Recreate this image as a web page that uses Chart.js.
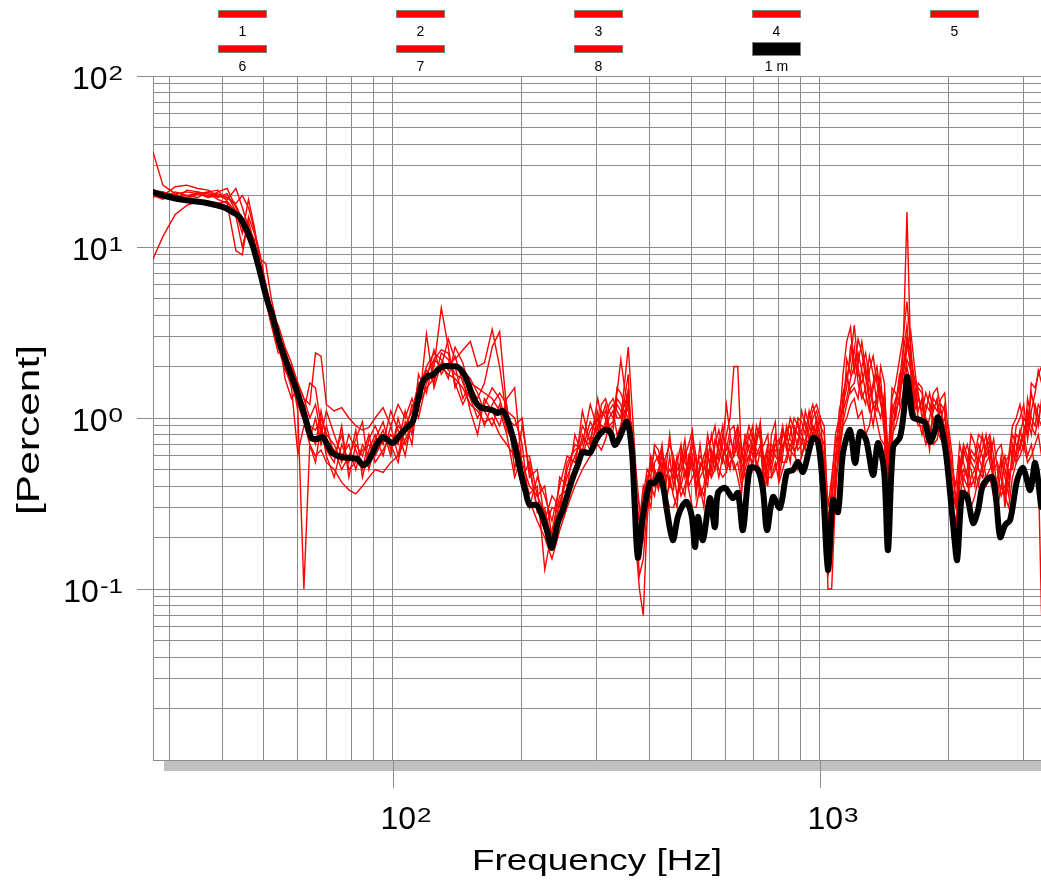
<!DOCTYPE html>
<html>
<head>
<meta charset="utf-8">
<script src="https://cdn.jsdelivr.net/npm/chart.js@4.4.1/dist/chart.umd.min.js"></script>
<style>
  html, body { margin: 0; padding: 0; background: #fff; }
  #wrap { width: 1041px; height: 880px; }
</style>
</head>
<body>
<div id="wrap"><canvas id="spectrum" width="1041" height="880"></canvas></div>
<script>
// frequency grid of the single runs (Hz)
const freqRuns = [27.5, 29, 31, 33, 35, 37, 39, 41, 43, 44.5, 46, 47.5, 49, 50.5, 52, 54, 56, 58, 60, 62,
  64, 66, 68, 70, 73, 76, 79, 82, 85, 88, 91, 95, 99, 103, 107, 111, 115, 120, 125, 130,
  135, 140, 146, 152, 158, 164, 171, 178, 185, 193, 201, 209, 218, 227, 236, 246, 256, 267, 278, 290,
  302, 308, 315, 321, 328, 335, 342, 349, 356, 363, 371, 378, 386, 394, 402, 410, 419, 427, 436, 445,
  454, 463, 473, 483, 493, 503, 513, 524, 535, 546, 557, 568, 580, 592, 604, 616, 629, 642, 655, 668,
  682, 696, 710, 725, 740, 755, 770, 786, 802, 818, 835, 852, 870, 888, 906, 924, 943, 962, 982, 1002,
  1023, 1044, 1065, 1087, 1109, 1132, 1155, 1179, 1203, 1228, 1253, 1279, 1305, 1332, 1359, 1387, 1415, 1444, 1474, 1504,
  1535, 1566, 1598, 1631, 1664, 1698, 1733, 1769, 1805, 1842, 1880, 1919, 1958, 1998, 2039, 2081, 2123, 2167, 2211, 2257,
  2303, 2350, 2398, 2447, 2497, 2549, 2601, 2655, 2709, 2765, 2821, 2879, 2938, 2998, 3060, 3123, 3187, 3243, 3300];

// runs 1..8 (Percent)
const run1 = [36,23,20.5,21,20.5,20,20.5,19.5,17.5,14.5,12.5,10, 8,6,4.5,3.2,2.5,1.9,1.4,1.2,0.9,0.85,1.0,0.8,
  0.7,0.55,0.8,0.65,0.5,0.75,0.9,0.7,1.1,0.85,0.6,1.0, 1.4,2.0,2.4,2.2,1.9,2.3,1.6,1.3,1.0,1.2,1.5,1.3,0.9,
  0.8,0.55,0.4,0.35,0.28,0.2,0.32,0.45,0.6,0.75,0.7,
  0.9,1.1,1.0,0.8,0.85,1.3,1.2,1.0,1.5,0.7, 0.35,0.25,0.3,0.45,0.5,0.65,0.55,0.7,0.4,0.6,
  0.4,0.5,0.55,0.75,0.45,0.6,0.35,0.55,0.5,0.8, 0.6,0.5,0.7,0.9,0.55,0.75,0.65,0.85,0.5,0.6,
  0.8,0.65,0.7,0.95,0.45,0.55,0.6,0.8,0.5,0.7, 0.75,1.0,0.85,0.65,0.7,1.1,0.9,0.8,1.0,0.75,
  0.6,0.2,0.3,0.6,0.8,1.2,1.5,2.6,2.2,1.8, 1.6,2.0,1.2,0.9,1.4,1.7,0.9,0.4,1.1,1.3,
  1.5,2.0,3.0,2.4,1.6,1.1,1.3,0.8,1.0,1.3, 1.2,0.8,0.9,0.6,0.35,0.3,0.5,0.7,0.6,0.4,
  0.45,0.55,0.65,0.8,0.55,0.45,0.4,0.6,0.45,0.35, 0.7,0.6,0.8,1.0,0.9,1.4,1.1,0.9,1.3];
const run2 = [8.5,11.5,15.5,17.5,18.5,18.5,18,18.5,16,14,12,10.5, 7,5,3.8,2.6,1.9,1.6,1.2,0.95,0.7,0.6,0.65,0.55,
  0.5,0.42,0.38,0.36,0.4,0.45,0.5,0.48,0.55,0.6,0.75,0.9, 1.2,1.5,1.7,2.0,1.8,1.7,1.5,1.2,1.1,0.95,1.0,0.8,0.7,
  0.6,0.4,0.33,0.25,0.2,0.15,0.22,0.3,0.4,0.5,0.6,
  0.7,0.65,0.75,0.9,0.8,0.7,0.9,1.1,1.0,0.5, 0.2,0.18,0.25,0.3,0.35,0.5,0.4,0.45,0.35,0.3,
  0.3,0.35,0.4,0.5,0.38,0.3,0.3,0.4,0.35,0.5, 0.45,0.6,0.5,0.45,0.48,0.65,0.5,0.55,0.4,0.5,
  0.6,0.7,0.55,0.5,0.38,0.45,0.45,0.55,0.42,0.5, 0.6,0.7,0.65,0.5,0.6,0.7,0.75,0.9,0.8,0.6,
  0.45,0.15,0.2,0.45,0.6,0.9,1.0,1.2,1.3,1.0, 1.1,0.8,0.9,1.2,0.95,0.75,0.7,0.3,0.8,0.9,
  1.1,1.4,2.0,1.5,1.1,0.9,0.9,0.7,0.8,1.0, 0.85,0.75,0.7,0.45,0.25,0.2,0.4,0.5,0.45,0.3,
  0.35,0.45,0.5,0.4,0.45,0.35,0.3,0.4,0.35,0.3, 0.45,0.55,0.6,0.7,0.55,0.6,0.7,0.8,0.6];
const run3 = [20,21,20,19.5,21,20.5,19,18,9.5,9,15,12, 8.5,8,5,3.3,1.7,1.3,1.5,1.1,1.6,1.5,0.9,0.65,
  0.55,0.9,0.45,0.7,0.6,0.8,0.55,0.65,0.8,0.7,1.1,0.8, 1.8,1.4,2.2,2.5,2.4,1.6,1.2,1.5,1.3,1.6,2.6,3.2,1.1,
  1.0,0.7,0.3,0.45,0.35,0.25,0.4,0.6,0.55,0.9,0.75,
  1.1,0.8,0.9,1.2,1.3,1.1,1.0,1.6,2.6,1.2, 0.5,0.3,0.2,0.4,0.6,0.5,0.45,0.65,0.5,0.8,
  0.5,0.35,0.45,0.6,0.7,0.85,0.4,0.5,0.6,0.7, 0.75,0.9,0.55,0.7,1.2,0.8,0.6,0.7,0.45,0.55,
  0.7,0.6,0.9,0.75,0.5,0.65,0.55,0.7,0.7,0.9, 0.65,0.8,1.0,0.9,0.8,0.7,0.7,1.0,1.1,0.9,
  0.8,0.3,0.45,0.7,0.9,1.8,2.8,3.4,1.8,2.9, 2.4,1.7,1.5,1.2,1.1,2.0,1.6,0.5,1.3,1.6,
  2.2,3.0,4.8,2.6,1.3,1.6,1.5,0.9,0.65,1.2, 1.1,1.3,1.4,0.8,0.5,0.4,0.7,0.55,0.45,0.65,
  0.6,0.8,0.75,0.6,0.7,0.5,0.55,0.45,0.35,0.6, 0.9,1.0,1.2,0.9,0.8,1.6,1.5,1.8,2.0];
const run4 = [21,20,22.5,23,22,21.5,20,19,22,17,13,11, 6.5,5.5,4.3,3.0,2.3,2.0,1.6,1.3,1.0,1.2,0.8,1.1,
  0.8,0.6,0.7,0.5,0.7,0.6,0.75,0.95,0.65,0.9,0.8,1.2, 1.1,3.1,1.5,2.1,1.7,2.6,2.1,1.4,1.2,0.9,1.2,1.4,1.2,
  0.5,0.9,0.5,0.3,0.22,0.3,0.28,0.5,0.7,0.65,0.95,
  0.8,1.0,1.2,0.9,0.95,1.5,1.4,1.2,1.1,0.9, 0.3,0.2,0.35,0.5,0.45,0.7,0.65,0.5,0.3,0.45,
  0.35,0.3,0.65,0.55,0.5,0.7,0.55,0.35,0.4,0.6, 0.5,0.7,0.85,0.65,0.6,0.5,0.75,0.9,0.7,0.45,
  0.55,0.8,0.65,0.6,0.6,0.4,0.8,0.95,0.45,0.6, 0.9,0.75,0.7,1.0,0.95,0.8,1.1,0.85,0.85,1.0,
  0.5,0.12,0.15,0.5,1.1,1.4,1.7,2.2,3.5,2.0, 1.4,1.2,1.9,2.3,1.6,1.2,1.0,0.35,0.9,1.1,
  1.3,1.8,2.5,3.2,2.0,1.3,1.1,1.4,1.2,0.9, 1.0,1.1,0.8,0.5,0.3,0.25,0.45,0.6,0.7,0.55,
  0.5,0.4,0.55,0.7,0.8,0.6,0.35,0.5,0.6,0.45, 0.55,0.8,0.75,0.65,1.3,1.0,0.9,1.2,1.1];
const run5 = [20.5,19.5,21,20,19.5,21,21.5,18.5,15,10,14,10.5, 7.5,4.8,3.5,2.4,2.4,1.8,1.1,0.1,0.7,0.55,0.9,0.6,
  0.45,0.7,0.55,0.85,0.45,0.65,0.8,0.6,0.9,0.6,0.95,0.7, 1.5,1.9,1.6,2.4,2.2,1.8,1.7,1.1,0.8,1.3,1.1,0.9,1.3,
  1.5,0.5,0.36,0.4,0.13,0.22,0.35,0.38,0.8,0.6,0.85,
  1.0,0.9,0.85,1.0,1.1,0.8,0.9,1.3,1.8,0.6, 0.25,0.12,0.15,0.3,0.4,0.35,0.5,0.6,0.45,0.5,
  0.45,0.6,0.4,0.35,0.6,0.5,0.45,0.7,0.45,0.4, 0.65,0.55,0.6,0.8,0.7,0.6,0.55,0.45,0.35,0.7,
  0.9,0.75,0.6,0.7,0.4,0.6,0.5,0.65,0.65,0.55, 0.55,0.7,0.75,0.95,0.6,0.75,0.85,1.1,1.2,1.0,
  0.9,0.25,0.35,0.55,0.7,0.95,1.2,1.5,1.6,2.1, 2.8,1.9,1.3,1.6,2.0,1.4,1.2,0.45,0.7,1.2,
  1.8,1.6,2.2,1.9,1.4,1.0,0.8,1.1,1.4,1.1, 1.3,0.9,1.0,0.7,0.45,0.35,0.35,0.45,0.5,0.8,
  0.7,0.5,0.45,0.55,0.6,0.75,0.5,0.35,0.4,0.55, 0.8,0.7,0.65,0.85,1.0,0.8,1.2,1.0,0.9];
const run6 = [19.5,20.5,19,21.5,21,19.5,20,19.5,18,20,17,12.5, 9,6,4,3.5,2.6,2.1,1.6,1.3,1.2,2.4,2.3,1.2,
  1.1,1.15,1.0,0.9,0.85,0.88,1.0,1.15,0.9,1.2,1.0,1.3, 1.0,1.6,2.0,4.4,2.6,1.5,1.9,1.7,1.4,1.1,0.9,1.2,0.85,
  0.7,0.45,0.55,0.28,0.3,0.18,0.45,0.4,0.5,1.1,0.7,
  1.3,1.0,1.1,0.85,0.9,1.2,1.1,0.9,1.3,0.8, 0.4,0.3,0.28,0.4,0.55,0.45,0.38,0.5,0.6,0.7,
  0.6,0.45,0.5,0.65,0.4,0.45,0.5,0.6,0.55,0.45, 0.55,0.75,0.65,0.55,0.8,1.0,2.0,2.0,0.6,0.75,
  0.65,0.5,0.8,0.9,0.55,0.7,0.7,0.6,0.55,0.8, 0.8,0.65,0.6,0.75,0.85,0.95,0.8,0.7,0.9,0.65,
  0.4,0.18,0.25,0.4,0.65,1.0,2.2,1.8,2.6,1.6, 1.3,1.5,2.3,1.8,1.2,1.0,1.4,0.6,1.5,1.4,
  1.2,2.4,3.5,1.8,1.1,1.3,1.2,1.0,0.9,0.7, 0.75,1.0,1.2,0.5,0.2,0.22,0.55,0.45,0.4,0.6,
  0.55,0.7,0.6,0.45,0.5,0.55,0.65,0.7,0.5,0.4, 0.6,0.9,1.0,1.2,0.75,1.1,1.4,1.9,1.6];
const run7 = [20,19,20.5,19,20.5,21,19.5,20.5,16,12,19,13, 7.8,5.5,3.9,2.8,2.0,1.5,0.62,0.9,0.85,0.7,1.1,0.75,
  0.65,0.5,0.6,0.75,0.95,0.5,0.7,0.85,0.6,1.0,0.7,0.9, 1.3,1.8,2.2,2.0,2.9,2.2,2.5,2.8,2.0,2.1,3.3,2.0,1.0,
  0.9,1.0,0.45,0.5,0.25,0.35,0.3,0.55,0.65,0.7,1.2,
  0.85,1.2,1.3,1.1,1.0,1.4,2.2,1.5,1.2,0.7, 0.3,0.25,0.4,0.35,0.3,0.55,0.6,0.4,0.55,0.4,
  0.38,0.55,0.7,0.45,0.55,0.8,0.6,0.4,0.3,0.55, 0.8,0.6,0.45,0.6,0.65,0.85,0.9,0.6,0.55,0.8,
  0.75,0.9,0.5,0.65,0.7,0.8,0.45,0.5,0.6,0.85, 0.7,0.55,0.9,0.8,0.75,0.65,1.0,1.2,0.95,0.8,
  0.7,0.22,0.4,0.8,1.0,1.1,1.3,1.7,2.0,2.4, 1.9,1.4,1.1,1.5,1.8,1.3,0.8,0.3,1.0,1.2,
  1.6,2.6,16,2.2,1.7,1.4,1.0,1.2,1.1,1.4, 1.5,1.1,0.85,0.9,0.6,0.3,0.45,0.65,0.55,0.5,
  0.4,0.6,0.8,0.6,0.65,0.4,0.45,0.55,0.3,0.5, 0.5,0.65,0.85,0.7,1.1,0.9,0.8,1.0,1.2];
const run8 = [21.5,21,19.5,20,20.5,19.5,21,22,17,13,11,9, 6.8,5.0,4.4,2.7,2.1,1.7,1.3,1.0,0.75,1.0,0.7,0.9,
  0.6,0.8,0.5,0.55,0.65,0.7,0.6,0.75,0.7,0.55,0.9,1.1, 1.6,1.7,2.5,1.8,2.1,2.0,1.3,1.6,1.5,1.4,1.3,1.1,0.8,
  0.45,0.6,0.6,0.35,0.4,0.2,0.25,0.35,0.45,0.8,0.65,
  1.0,0.8,0.95,1.1,1.2,1.0,1.0,1.2,1.4,0.5, 0.18,0.1,0.07,0.25,0.45,0.4,0.5,0.55,0.35,0.4,
  0.55,0.45,0.35,0.4,0.5,0.55,0.38,0.45,0.5,0.65, 0.45,0.5,0.75,0.6,0.5,0.55,0.6,0.75,0.65,0.55,
  0.6,0.55,0.75,0.85,0.35,0.5,0.65,0.7,0.75,0.65, 0.85,0.9,0.65,0.7,1.1,0.9,0.75,0.8,0.85,0.7,
  0.55,0.1,0.1,0.35,0.75,1.3,1.8,1.4,1.5,1.3, 2.0,2.4,1.7,1.2,1.3,1.5,1.1,0.4,1.2,1.0,
  1.4,1.9,2.8,2.0,1.2,1.5,1.4,0.9,0.75,0.85, 0.95,1.2,1.1,0.65,0.4,0.3,0.6,0.4,0.35,0.45,
  0.5,0.6,0.5,0.65,0.75,0.45,0.3,0.4,0.55,0.6, 0.65,0.55,0.7,0.8,0.6,0.7,0.5,0.5,0.07];

// "1 m" curve
const freqMean = [27.4,30.0,32.6,36.7,40.2,42.2,43.8,45.5,47.0,48.8,50.7,52.4,54.4,56.5,59.6,62.2,64.6,66.7,68.6,70.4,
  72.3,75.9,80.2,82.8,85.1,87.4,89.8,92.2,94.8,97.3,100,102.7,105.5,108.4,111.4,114.4,117.6,120.8,124.1,127.5,
  132.4,137.5,142.0,147.5,151.5,155.6,159.9,166.0,171.5,176.2,181.0,185.9,191.0,196.2,200.5,204.8,209.3,217.3,223.3,229.5,
  235.7,243.4,250.1,255.5,263.9,271.2,278.6,289.3,295.6,302.0,310.3,317.1,324.0,331.1,340.1,353.2,362.8,368.7,374.8,385.0,
  399.8,410.7,421.9,431.1,438.2,452.6,465.0,477.7,488.1,501.4,510.0,518.0,532.2,552.6,567.7,577.0,599.2,625.6,642.7,660.3,
  685.7,715.9,735.5,751.6,776.3,806.2,837.2,864.8,888.4,912.6,937.4,962.9,989.2,1016,1044,1072,1102,1132,1176,1208,
  1241,1282,1331,1367,1412,1443,1483,1539,1573,1599,1625,1651,1715,1762,1810,1859,1889,1962,2016,2060,
  2094,2151,2210,2282,2344,2408,2528,2584,2640,2713,2786,2893,2988,3103,3188,3293];
const mean1m = [21.0,19.6,18.8,18.1,17.1,16.0,15.0,12.6,10.3,7.34,5.03,3.90,2.75,2.10,1.46,1.04,0.764,0.754,0.774,0.695,
  0.624,0.591,0.583,0.576,0.531,0.553,0.624,0.714,0.774,0.744,0.714,0.764,0.828,0.886,0.948,1.24,1.62,1.76,1.78,1.91,
  2.01,2.01,1.99,1.78,1.50,1.27,1.16,1.13,1.11,1.07,1.10,0.973,0.774,0.583,0.452,0.369,0.310,0.310,0.271,0.221,
  0.174,0.243,0.290,0.345,0.446,0.531,0.633,0.624,0.695,0.774,0.839,0.851,0.817,0.695,0.774,0.948,0.650,0.302,0.152,0.264,
  0.417,0.417,0.464,0.379,0.290,0.193,0.264,0.310,0.323,0.264,0.176,0.264,0.193,0.340,0.230,0.364,0.390,0.340,0.364,0.221,
  0.510,0.497,0.379,0.221,0.345,0.298,0.483,0.497,0.553,0.483,0.608,0.764,0.724,0.395,0.129,0.331,0.282,0.624,0.851,0.546,
  0.828,0.744,0.464,0.714,0.497,0.169,0.677,0.774,1.11,1.74,1.31,1.01,0.973,0.935,0.724,0.851,1.01,0.677,0.364,0.207,
  0.148,0.364,0.345,0.243,0.290,0.406,0.452,0.331,0.201,0.237,0.253,0.434,0.510,0.379,0.546,0.302];

const runLabels = ['1', '2', '3', '4', '5', '6', '7', '8'];
const meanLabel = '1 m';
const xGridTicks = [30, 40, 50, 60, 70, 80, 90, 100, 200, 300, 400, 500, 600, 700, 800, 900, 1000, 2000, 3000];
const yGridTicks = [0.01, 0.02, 0.03, 0.04, 0.05, 0.06, 0.07, 0.08, 0.09, 0.1, 0.2, 0.3, 0.4, 0.5, 0.6, 0.7, 0.8, 0.9,
  1, 2, 3, 4, 5, 6, 7, 8, 9, 10, 20, 30, 40, 50, 60, 70, 80, 90, 100];
const xDecades = [[100, '2'], [1000, '3']];
const yDecades = [[100, '2'], [10, '1'], [1, '0'], [0.1, '-1']];

const FONT = "'Liberation Sans', Arial, sans-serif";
const GRID = '#8c8c8c';

const runs = [run1, run2, run3, run4, run5, run6, run7, run8];
const datasets = runs.map((vals, i) => ({
  label: runLabels[i],
  data: freqRuns.map((f, k) => ({ x: f, y: vals[k] })),
  borderColor: '#ff0000',
  borderWidth: 1.4,
  pointRadius: 0,
  tension: 0,
  order: 1
}));
datasets.push({
  label: meanLabel,
  data: freqMean.map((f, k) => ({ x: f, y: mean1m[k] })),
  borderColor: '#000000',
  borderWidth: 6,
  pointRadius: 0,
  tension: 0.3,
  borderJoinStyle: 'round',
  borderCapStyle: 'round',
  order: 0
});

const SUP_STRETCH = 1.3;
function drawPower(ctx, exp, x, y, supDy) {
  // "10" plus raised exponent, x = left edge, y = baseline of "10"
  ctx.font = '32px ' + FONT;
  ctx.textAlign = 'left';
  ctx.textBaseline = 'alphabetic';
  ctx.fillText('10', x, y);
  const w = ctx.measureText('10').width;
  ctx.font = '20px ' + FONT;
  ctx.save();
  ctx.translate(x + w + 1, y - supDy);
  ctx.scale(SUP_STRETCH, 1);
  ctx.fillText(exp, 0, 0);
  ctx.restore();
}
function powerWidth(ctx, exp) {
  ctx.font = '32px ' + FONT;
  const w = ctx.measureText('10').width;
  ctx.font = '20px ' + FONT;
  return w + 1 + ctx.measureText(exp).width * SUP_STRETCH;
}

const decor = {
  id: 'decor',
  afterDraw(chart) {
    const { ctx, chartArea, scales } = chart;
    const xs = scales.x, ys = scales.y;
    ctx.save();

    // shadow under the plot frame
    ctx.fillStyle = '#c0c0c0';
    ctx.fillRect(chartArea.left + 11, chartArea.bottom + 1, chartArea.right - chartArea.left - 11, 10);

    ctx.strokeStyle = GRID;
    ctx.lineWidth = 1;
    ctx.fillStyle = '#000';

    // y decade labels and stubs
    yDecades.forEach(([v, exp]) => {
      const py = Math.round(ys.getPixelForValue(v)) + 0.5;
      ctx.beginPath();
      ctx.moveTo(chartArea.left - 16, py);
      ctx.lineTo(chartArea.left, py);
      ctx.stroke();
      const w = powerWidth(ctx, exp);
      drawPower(ctx, exp, 123 - w, py + 12, 9);
    });

    // x decade labels and stubs
    xDecades.forEach(([v, exp]) => {
      const px = Math.round(xs.getPixelForValue(v)) + 0.5;
      ctx.beginPath();
      ctx.moveTo(px, chartArea.bottom);
      ctx.lineTo(px, chartArea.bottom + 28);
      ctx.stroke();
      drawPower(ctx, exp, px - 13, 829, 7);
    });

    // axis titles (stretched like the original)
    ctx.fillStyle = '#000';
    ctx.font = '30px ' + FONT;
    ctx.textAlign = 'center';
    ctx.textBaseline = 'alphabetic';
    let t = 'Frequency [Hz]';
    let sx = 250 / ctx.measureText(t).width;
    ctx.save();
    ctx.translate(597, 870);
    ctx.scale(sx, 1);
    ctx.fillText(t, 0, 0);
    ctx.restore();

    ctx.font = '32px ' + FONT;
    t = '[Percent]';
    sx = 170 / ctx.measureText(t).width;
    ctx.save();
    ctx.translate(39, 430);
    ctx.rotate(-Math.PI / 2);
    ctx.scale(sx, 1);
    ctx.fillText(t, 0, 0);
    ctx.restore();

    // legend: two rows of swatches with labels underneath
    const cols = [242.5, 420.5, 598.5, 776.5, 954.5];
    chart.data.datasets.forEach((ds, i) => {
      const row = i < 5 ? 0 : 1;
      const cx = cols[i % 5];
      const thick = ds.borderWidth > 3;
      const h = thick ? 13 : 7;
      const top = row === 0 ? 10.5 : (thick ? 42.5 : 45.5);
      ctx.fillStyle = ds.borderColor;
      ctx.fillRect(cx - 24, top, 48, h);
      ctx.strokeStyle = '#808080';
      ctx.lineWidth = 1;
      ctx.strokeRect(cx - 24, top, 48, h);
      ctx.fillStyle = '#000';
      ctx.font = '14px ' + FONT;
      ctx.textAlign = 'center';
      ctx.textBaseline = 'middle';
      ctx.fillText(ds.label, cx, row === 0 ? 32 : 67);
    });

    ctx.restore();
  }
};

new Chart(document.getElementById('spectrum'), {
  type: 'line',
  data: { datasets },
  options: {
    responsive: false,
    devicePixelRatio: 1,
    animation: false,
    layout: { padding: { left: 153, top: 76, right: 0, bottom: 120 } },
    plugins: { legend: { display: false }, tooltip: { enabled: false } },
    scales: {
      x: {
        type: 'logarithmic',
        min: 27.5,
        max: 3290,
        afterBuildTicks: (scale) => { scale.ticks = xGridTicks.map(v => ({ value: v })); },
        ticks: { display: false },
        grid: { color: GRID, lineWidth: 1, drawTicks: false },
        border: { color: GRID, width: 1 }
      },
      y: {
        type: 'logarithmic',
        min: 0.01,
        max: 100,
        afterBuildTicks: (scale) => { scale.ticks = yGridTicks.map(v => ({ value: v })); },
        ticks: { display: false },
        grid: { color: GRID, lineWidth: 1, drawTicks: false },
        border: { color: GRID, width: 1 }
      }
    }
  },
  plugins: [decor]
});
</script>
</body>
</html>
